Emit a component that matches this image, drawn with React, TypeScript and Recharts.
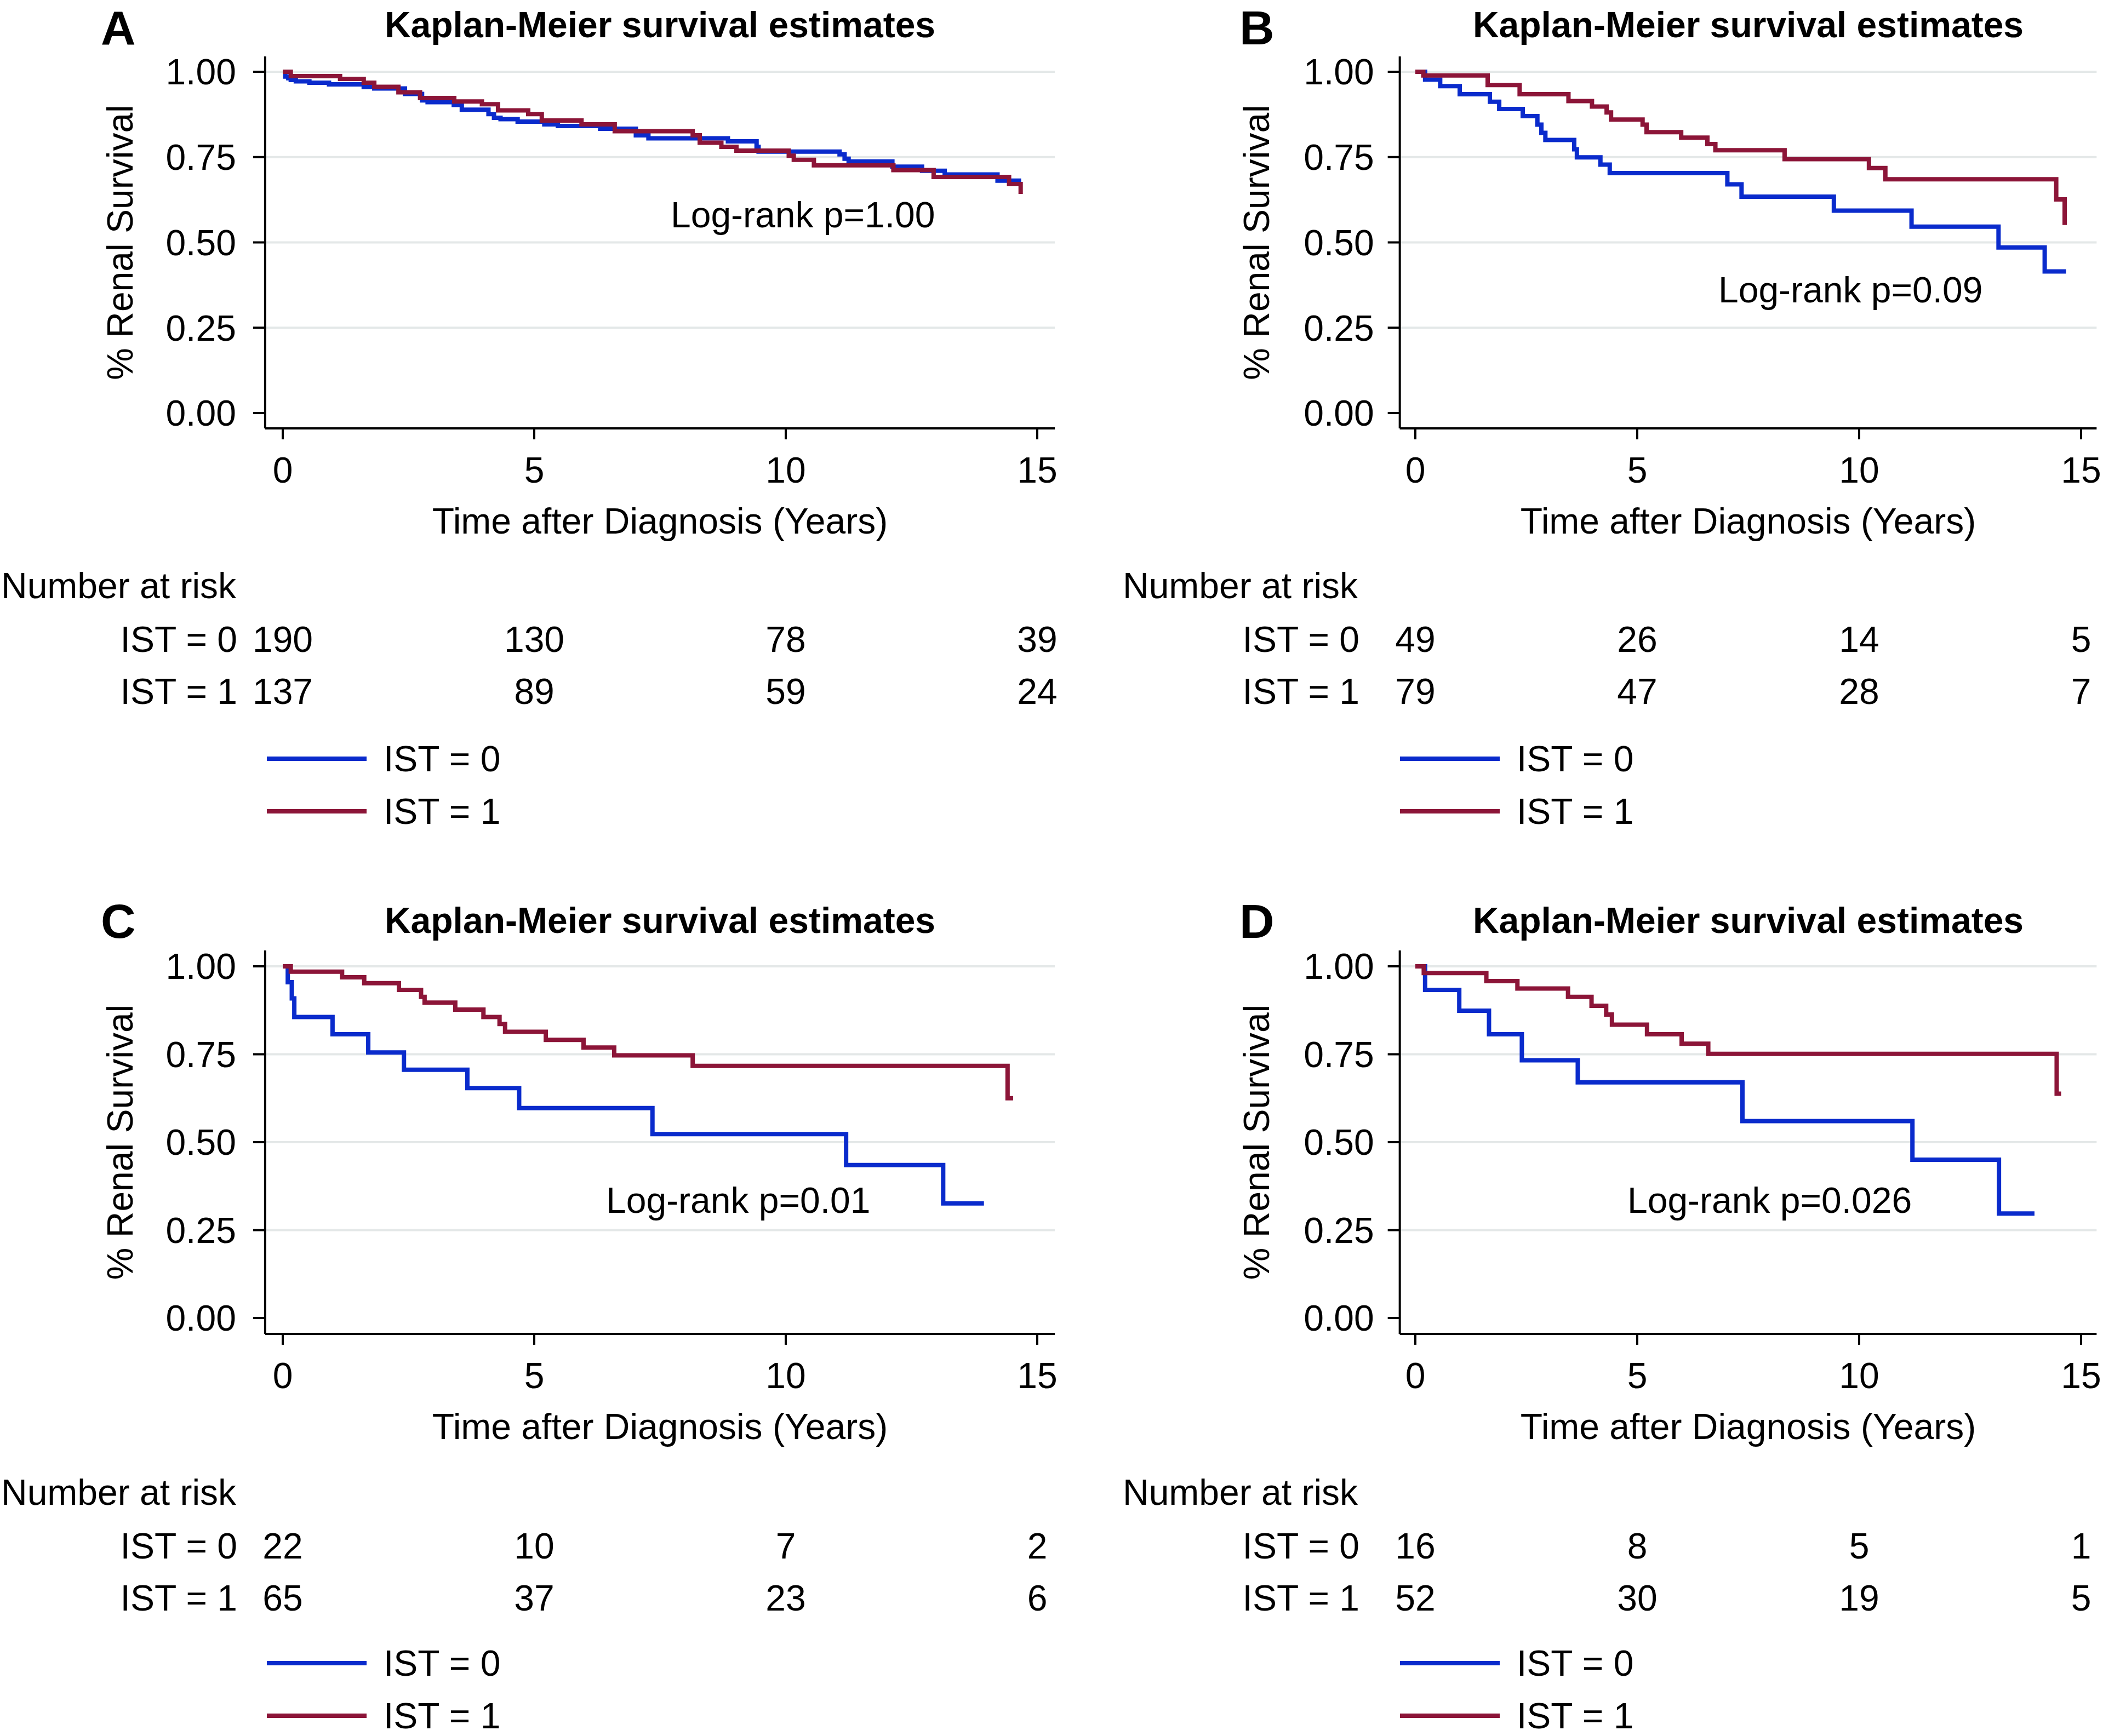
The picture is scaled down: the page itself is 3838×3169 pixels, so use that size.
import React from "react";
import {
  LineChart,
  Line,
  XAxis,
  YAxis,
  ReferenceLine,
  Legend,
} from "recharts";

const FONT = '"Liberation Sans", Arial, Helvetica, sans-serif';
const BLUE = "#0a2bcc";
const RED = "#8c1538";
const GRID = "#e4e8e8";
const FS = 66;

const X_TICKS = [0, 5, 10, 15];
const Y_TICKS = [0, 0.25, 0.5, 0.75, 1];
const GRID_VALUES = [0.25, 0.5, 0.75, 1];
const X_DOMAIN = [-0.35, 15.35];
const Y_DOMAIN = [-0.045, 1.045];
const SERIES = ["IST = 0", "IST = 1"];

// panel A
const A_T0 = [0, 0.05, 0.11, 0.16, 0.26, 0.53, 0.92, 1.61, 1.82, 2.43, 2.77, 2.88, 3.4, 3.56, 4.09, 4.2, 4.33, 4.67, 5.2, 5.47, 6.31, 7.02, 7.27, 8.85, 9.42, 9.46, 11.07, 11.17, 11.25, 12.12, 12.71, 13.16, 14.21, 14.68];
const A_S0 = [1, 0.986, 0.981, 0.976, 0.972, 0.968, 0.963, 0.955, 0.951, 0.935, 0.916, 0.911, 0.903, 0.889, 0.876, 0.865, 0.861, 0.854, 0.846, 0.841, 0.833, 0.814, 0.805, 0.796, 0.78, 0.766, 0.758, 0.745, 0.737, 0.722, 0.71, 0.699, 0.681, 0.681];
const A_T1 = [0, 0.16, 1.14, 1.61, 1.82, 2.3, 2.73, 3.41, 3.96, 4.28, 4.88, 5.15, 5.94, 6.6, 8.15, 8.29, 8.72, 9.02, 10.06, 10.16, 10.56, 12.14, 12.94, 14.44, 14.67];
const A_S1 = [1, 0.987, 0.979, 0.968, 0.956, 0.94, 0.923, 0.913, 0.905, 0.887, 0.876, 0.857, 0.846, 0.826, 0.814, 0.792, 0.78, 0.769, 0.754, 0.742, 0.726, 0.712, 0.692, 0.671, 0.642];
const A_RISK0 = [190, 130, 78, 39];
const A_RISK1 = [137, 89, 59, 24];

// panel B
const B_T0 = [0, 0.22, 0.56, 1.0, 1.68, 1.89, 2.42, 2.75, 2.84, 2.93, 3.58, 3.64, 4.17, 4.38, 7.03, 7.35, 9.43, 11.18, 13.14, 14.18, 14.66];
const B_S0 = [1, 0.977, 0.958, 0.934, 0.912, 0.891, 0.87, 0.845, 0.821, 0.8, 0.773, 0.749, 0.728, 0.703, 0.67, 0.634, 0.593, 0.546, 0.485, 0.415, 0.415];
const B_T1 = [0, 0.18, 1.63, 2.35, 3.45, 3.98, 4.31, 4.41, 5.12, 5.21, 5.99, 6.58, 6.76, 8.32, 10.22, 10.59, 14.44, 14.63];
const B_S1 = [1, 0.989, 0.961, 0.934, 0.914, 0.898, 0.881, 0.86, 0.845, 0.823, 0.807, 0.788, 0.77, 0.744, 0.718, 0.685, 0.626, 0.551];
const B_RISK0 = [49, 26, 14, 5];
const B_RISK1 = [79, 47, 28, 7];

// panel C
const C_T0 = [0, 0.1, 0.18, 0.23, 0.99, 1.7, 2.41, 3.67, 4.7, 7.35, 11.2, 13.13, 13.94];
const C_S0 = [1, 0.955, 0.909, 0.856, 0.807, 0.755, 0.706, 0.654, 0.597, 0.523, 0.435, 0.326, 0.326];
const C_T1 = [0, 0.16, 1.18, 1.62, 2.31, 2.75, 2.82, 3.43, 3.99, 4.31, 4.42, 5.23, 5.98, 6.59, 8.15, 14.41, 14.52];
const C_S1 = [1, 0.985, 0.969, 0.952, 0.933, 0.913, 0.897, 0.877, 0.856, 0.836, 0.814, 0.791, 0.769, 0.747, 0.717, 0.625, 0.625];
const C_RISK0 = [22, 10, 7, 2];
const C_RISK1 = [65, 37, 23, 6];

// panel D
const D_T0 = [0, 0.22, 0.99, 1.66, 2.4, 3.66, 7.37, 11.2, 13.15, 13.95];
const D_S0 = [1, 0.933, 0.874, 0.807, 0.733, 0.67, 0.56, 0.45, 0.297, 0.297];
const D_T1 = [0, 0.19, 1.6, 2.3, 3.44, 3.97, 4.3, 4.43, 5.22, 6.0, 6.6, 14.45, 14.55];
const D_S1 = [1, 0.981, 0.958, 0.937, 0.913, 0.888, 0.863, 0.834, 0.807, 0.78, 0.751, 0.638, 0.638];
const D_RISK0 = [16, 8, 5, 1];
const D_RISK1 = [52, 30, 19, 5];

const toRows = (t: number[], s: number[]) => t.map((v, i) => ({ t: v, s: s[i] }));

type Panel = {
  letter: string;
  box: number[]; // left, top, width, height (page px)
  x0: number;
  x15: number;
  y1: number;
  y0: number;
  letterX: number;
  letterY: number;
  titleY: number;
  yTitleX: number;
  yTickGap: number;
  logText: string;
  logX: number;
  logY: number;
  narX: number;
  narY: number;
  istRight: number;
  rowY: number[];
  xTitleY: number;
  legendX: number;
  legendY: number;
  blue: { t: number; s: number }[];
  red: { t: number; s: number }[];
  risk0: number[];
  risk1: number[];
};

const PANELS: Panel[] = [
  {
    letter: "A", box: [0, 0, 1940, 1590], x0: 516, x15: 1893, y1: 131, y0: 754,
    letterX: 184, letterY: 81, titleY: 68, yTitleX: 242, yTickGap: 31,
    logText: "Log-rank p=1.00", logX: 1224, logY: 415,
    narX: 2, narY: 1092, istRight: 433, rowY: [1190, 1285], xTitleY: 974,
    legendX: 487, legendY: 1385,
    blue: toRows(A_T0, A_S0), red: toRows(A_T1, A_S1), risk0: A_RISK0, risk1: A_RISK1,
  },
  {
    letter: "B", box: [1940, 0, 1898, 1590], x0: 2583, x15: 3798, y1: 131, y0: 754,
    letterX: 2262, letterY: 81, titleY: 68, yTitleX: 2316, yTickGap: 25,
    logText: "Log-rank p=0.09", logX: 3136, logY: 552,
    narX: 2049, narY: 1092, istRight: 2481, rowY: [1190, 1285], xTitleY: 974,
    legendX: 2555, legendY: 1385,
    blue: toRows(B_T0, B_S0), red: toRows(B_T1, B_S1), risk0: B_RISK0, risk1: B_RISK1,
  },
  {
    letter: "C", box: [0, 1590, 1940, 1579], x0: 516, x15: 1893, y1: 1764, y0: 2406,
    letterX: 184, letterY: 1712, titleY: 1703, yTitleX: 242, yTickGap: 31,
    logText: "Log-rank p=0.01", logX: 1106, logY: 2214,
    narX: 2, narY: 2747, istRight: 433, rowY: [2845, 2940], xTitleY: 2627,
    legendX: 487, legendY: 3036,
    blue: toRows(C_T0, C_S0), red: toRows(C_T1, C_S1), risk0: C_RISK0, risk1: C_RISK1,
  },
  {
    letter: "D", box: [1940, 1590, 1898, 1579], x0: 2583, x15: 3798, y1: 1764, y0: 2406,
    letterX: 2262, letterY: 1712, titleY: 1703, yTitleX: 2316, yTickGap: 25,
    logText: "Log-rank p=0.026", logX: 2970, logY: 2214,
    narX: 2049, narY: 2747, istRight: 2481, rowY: [2845, 2940], xTitleY: 2627,
    legendX: 2555, legendY: 3036,
    blue: toRows(D_T0, D_S0), red: toRows(D_T1, D_S1), risk0: D_RISK0, risk1: D_RISK1,
  },
];

function LegendBox({ payload }: { payload?: any[] }) {
  const items = payload && payload.length ? payload : SERIES.map((v, i) => ({ value: v, color: i ? RED : BLUE }));
  return (
    <svg width={560} height={170} style={{ display: "block", fontFamily: FONT, overflow: "visible" }}>
      {items.map((it: any, i: number) => (
        <g key={i}>
          <line x1={0} x2={182} y1={20 + i * 96} y2={20 + i * 96} stroke={it.color} strokeWidth={8} />
          <text x={213} y={43 + i * 96} fontSize={FS} fill="#000">
            {it.value}
          </text>
        </g>
      ))}
    </svg>
  );
}

function KMPanel({ p }: { p: Panel }) {
  const [bx, by, bw, bh] = p.box;
  const ppx = (p.x15 - p.x0) / 15;
  const ppy = p.y0 - p.y1;
  const plotL = p.x0 + X_DOMAIN[0] * ppx;
  const plotR = p.x0 + X_DOMAIN[1] * ppx;
  const plotT = p.y1 - (Y_DOMAIN[1] - 1) * ppy;
  const plotB = p.y0 - Y_DOMAIN[0] * ppy;
  const XH = 20;
  const margin = { top: plotT - by, right: bx + bw - plotR, bottom: by + bh - plotB - XH, left: 0 };
  const lx = (v: number) => v - bx;
  const ly = (v: number) => v - by;
  const cx = (plotL + plotR) / 2 - bx;
  const cy = (p.y1 + p.y0) / 2 - by;

  const XTick = (props: any) => {
    const { x, y, payload } = props;
    const i = X_TICKS.indexOf(payload.value);
    return (
      <g>
        <text x={x} y={y} dy="0.71em" textAnchor="middle" fontSize={FS} fill="#000">
          {payload.value}
        </text>
        <text x={x} y={ly(p.rowY[0])} textAnchor="middle" fontSize={FS} fill="#000">
          {p.risk0[i]}
        </text>
        <text x={x} y={ly(p.rowY[1])} textAnchor="middle" fontSize={FS} fill="#000">
          {p.risk1[i]}
        </text>
      </g>
    );
  };

  return (
    <div style={{ position: "absolute", left: bx, top: by, width: bw, height: bh }}>
      <LineChart width={bw} height={bh} margin={margin}>
        <XAxis
          dataKey="t"
          type="number"
          domain={X_DOMAIN}
          allowDataOverflow
          ticks={X_TICKS}
          interval={0}
          height={XH}
          tickSize={20}
          tickMargin={32}
          tick={XTick}
          tickLine={{ stroke: "#000", strokeWidth: 4 }}
          axisLine={{ stroke: "#000", strokeWidth: 4 }}
        />
        <YAxis
          type="number"
          domain={Y_DOMAIN}
          allowDataOverflow
          ticks={Y_TICKS}
          interval={0}
          width={plotL - bx}
          tickSize={22}
          tickMargin={p.yTickGap}
          tickFormatter={(v: number) => v.toFixed(2)}
          tick={{ fill: "#000", fontSize: FS }}
          tickLine={{ stroke: "#000", strokeWidth: 4 }}
          axisLine={{ stroke: "#000", strokeWidth: 4 }}
        />
        {GRID_VALUES.map((g) => (
          <ReferenceLine key={g} y={g} stroke={GRID} strokeWidth={4} />
        ))}
        <Line
          data={p.blue}
          dataKey="s"
          name={SERIES[0]}
          type="stepAfter"
          stroke={BLUE}
          strokeWidth={8}
          dot={false}
          activeDot={false}
          isAnimationActive={false}
        />
        <Line
          data={p.red}
          dataKey="s"
          name={SERIES[1]}
          type="stepAfter"
          stroke={RED}
          strokeWidth={8}
          dot={false}
          activeDot={false}
          isAnimationActive={false}
        />
        <Legend
          layout="vertical"
          align="center"
          verticalAlign="middle"
          wrapperStyle={{ left: lx(p.legendX), top: ly(p.legendY) - 20, width: 560, height: 170 }}
          content={(props: any) => <LegendBox payload={props.payload} />}
        />
        <text x={lx(p.letterX)} y={ly(p.letterY)} fontSize={88} fontWeight="bold" fill="#000">
          {p.letter}
        </text>
        <text x={cx} y={ly(p.titleY)} textAnchor="middle" fontSize={FS} fontWeight="bold" fill="#000">
          Kaplan-Meier survival estimates
        </text>
        <text
          x={lx(p.yTitleX)}
          y={cy}
          textAnchor="middle"
          fontSize={FS}
          fill="#000"
          transform={`rotate(-90 ${lx(p.yTitleX)} ${cy})`}
        >
          % Renal Survival
        </text>
        <text x={cx} y={ly(p.xTitleY)} textAnchor="middle" fontSize={FS} fill="#000">
          Time after Diagnosis (Years)
        </text>
        <text x={lx(p.logX)} y={ly(p.logY)} fontSize={FS} fill="#000">
          {p.logText}
        </text>
        <text x={lx(p.narX)} y={ly(p.narY)} fontSize={FS} fill="#000">
          Number at risk
        </text>
        <text x={lx(p.istRight)} y={ly(p.rowY[0])} textAnchor="end" fontSize={FS} fill="#000">
          {SERIES[0]}
        </text>
        <text x={lx(p.istRight)} y={ly(p.rowY[1])} textAnchor="end" fontSize={FS} fill="#000">
          {SERIES[1]}
        </text>
      </LineChart>
    </div>
  );
}

export default function App() {
  return (
    <div
      style={{
        position: "absolute",
        left: 0,
        top: 0,
        width: 3838,
        height: 3169,
        background: "#fff",
        fontFamily: FONT,
        overflow: "hidden",
      }}
    >
      {PANELS.map((p) => (
        <KMPanel key={p.letter} p={p} />
      ))}
    </div>
  );
}
